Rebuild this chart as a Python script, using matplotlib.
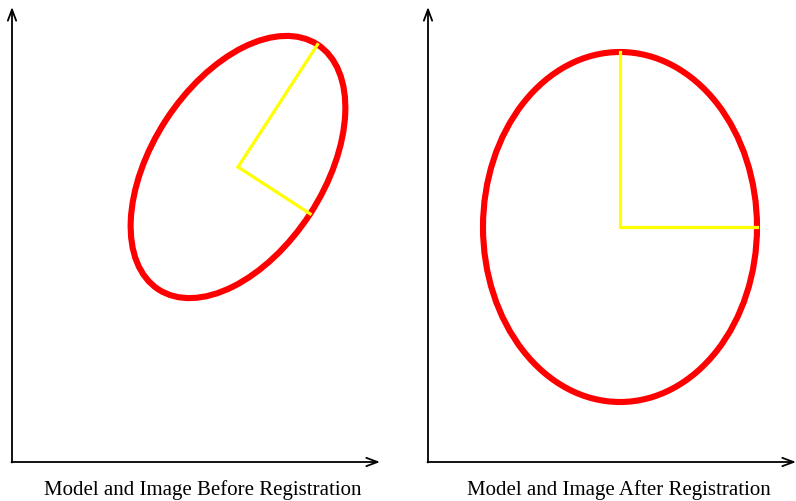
import numpy as np
import matplotlib.pyplot as plt
from matplotlib.patches import Ellipse

# ellipse parameters (pixel-like units, y pointing down)
centers = [(238, 167), (620, 227)]
semi_major = [146, 175]
semi_minor = [86, 137]
angles = [-57, -90]          # direction of major axis, degrees
captions = ["Model and Image Before Registration",
            "Model and Image After Registration"]
caption_x = [203, 619]

# axes origins and ends for each panel
origins = [(12, 462), (428, 462)]
x_ends = [380, 796]
y_top = 7

fig = plt.figure(figsize=(7.96, 5.01), dpi=100)
ax = fig.add_axes([0, 0, 1, 1])
ax.set_xlim(0, 796)
ax.set_ylim(501, 0)
ax.axis("off")

arrow = dict(arrowstyle="->,head_length=0.8,head_width=0.3", color="black",
             lw=1.3, shrinkA=0, shrinkB=0)

for i in range(2):
    ox, oy = origins[i]
    ax.annotate("", xy=(ox, y_top), xytext=(ox, oy + 0.5), arrowprops=arrow,
                annotation_clip=False)
    ax.annotate("", xy=(x_ends[i], oy), xytext=(ox - 0.5, oy), arrowprops=arrow,
                annotation_clip=False)

    cx, cy = centers[i]
    th = np.radians(angles[i])
    e = Ellipse((cx, cy), 2 * semi_major[i], 2 * semi_minor[i], angle=angles[i],
                fill=False, edgecolor="red", lw=4.4, zorder=2)
    ax.add_patch(e)

    # radius lines
    p1 = (cx + semi_major[i] * np.cos(th), cy + semi_major[i] * np.sin(th))
    p2 = (cx + semi_minor[i] * np.cos(th + np.pi / 2),
          cy + semi_minor[i] * np.sin(th + np.pi / 2))
    ax.plot([p1[0], cx, p2[0]], [p1[1], cy, p2[1]], color="yellow", lw=2.3,
            solid_joinstyle="miter", zorder=3)

    ax.text(caption_x[i], 490, captions[i], ha="center", va="center",
            fontsize=15, family="Liberation Serif")

fig.savefig("out.png", dpi=100)
